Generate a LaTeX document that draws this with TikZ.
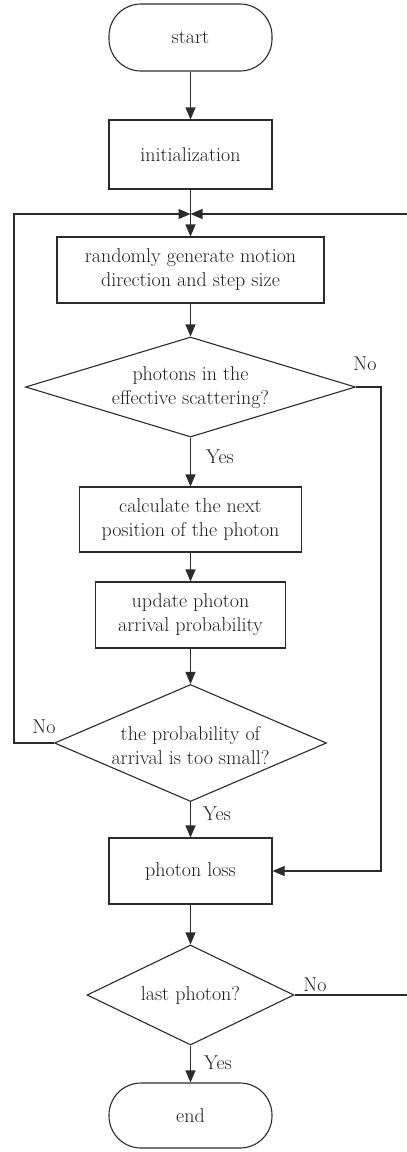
\documentclass[tikz,border=0pt]{standalone}
\usetikzlibrary{arrows.meta,shapes.geometric}
\definecolor{ink}{HTML}{2B2B2B}
\definecolor{txt}{HTML}{1E1E1E}
\begin{document}
\begin{tikzpicture}[x=1pt,y=-1pt,
  every node/.style={font=\fontsize{20}{24}\selectfont, text=txt},
  line/.style={draw=ink, line width=1.1pt},
  arr/.style={line, -{Triangle[length=12pt,width=10pt]}},
  box/.style={line, rectangle, inner sep=0pt, align=center},
  term/.style={line, rectangle, rounded corners=32pt, inner sep=0pt, minimum width=163pt},
  dia/.style={line, diamond, inner sep=0pt},
  lbl/.style={inner sep=0pt}]
\useasboundingbox (0,0) rectangle (407,1152);
\node[term, minimum height=67pt] (start) at (190.5,37.5) {start};
\node[box, minimum width=163pt, minimum height=69pt] (init) at (190.5,154.5) {initialization};
\coordinate (j) at (190.5,214);
\node[box, minimum width=267pt, minimum height=66pt] (rand) at (190.5,270) {randomly generate motion\\direction and step size};
\node[dia, minimum width=330pt, minimum height=100pt] (d1) at (190.5,387) {};
\node[lbl, align=center] (d1t) at (190.5,388) {photons in the\\effective scattering?};
\node[box, minimum width=222pt, minimum height=65pt] (calc) at (190.5,519.5) {calculate the next\\position of the photon};
\node[box, minimum width=190pt, minimum height=66pt] (upd) at (190.5,615) {update photon\\arrival probability};
\node[dia, minimum width=272pt, minimum height=117pt] (d2) at (190.5,743) {};
\node[lbl, align=center] (d2t) at (190.5,746) {the probability of\\arrival is too small?};
\node[box, minimum width=163pt, minimum height=66pt] (loss) at (190.5,871) {photon loss};
\node[dia, minimum width=207pt, minimum height=100pt] (d3) at (190.5,995) {};
\node[lbl] (d3t) at (190.5,995) {last photon?};
\node[term, minimum height=65pt] (end) at (190.5,1115.5) {end};
\coordinate (rt1) at (381,387);
\coordinate (lt2) at (14,743);
\coordinate (rt3) at (410,995);
\coordinate (rtop) at (410,214);
\coordinate (ltop) at (14,214);
% main flow
\draw[arr] (start) -- (init);
\draw[line] (init) -- (j);
\draw[arr] (j) -- (rand);
\draw[arr] (rand) -- (d1);
\draw[arr] (d1) -- (calc);
\draw[arr] (calc) -- (upd);
\draw[arr] (upd) -- (d2);
\draw[arr] (d2) -- (loss);
\draw[arr] (loss) -- (d3);
\draw[arr] (d3) -- (end);
% loops
\draw[arr] (d1.east) -- (rt1) |- (loss.east);
\draw[arr] (d2.west) -- (lt2) -- (ltop) -- (j);
\draw[arr] (d3.east) -- (rt3) -- (rtop) -- (j);
% labels
\node[lbl] (no1) at (365,364) {No};
\node[lbl] (yes1) at (220,457) {Yes};
\node[lbl] (no2) at (44,727) {No};
\node[lbl] (yes2) at (217,814) {Yes};
\node[lbl] (no3) at (315,985) {No};
\node[lbl] (yes3) at (218,1063) {Yes};
\end{tikzpicture}
\end{document}
